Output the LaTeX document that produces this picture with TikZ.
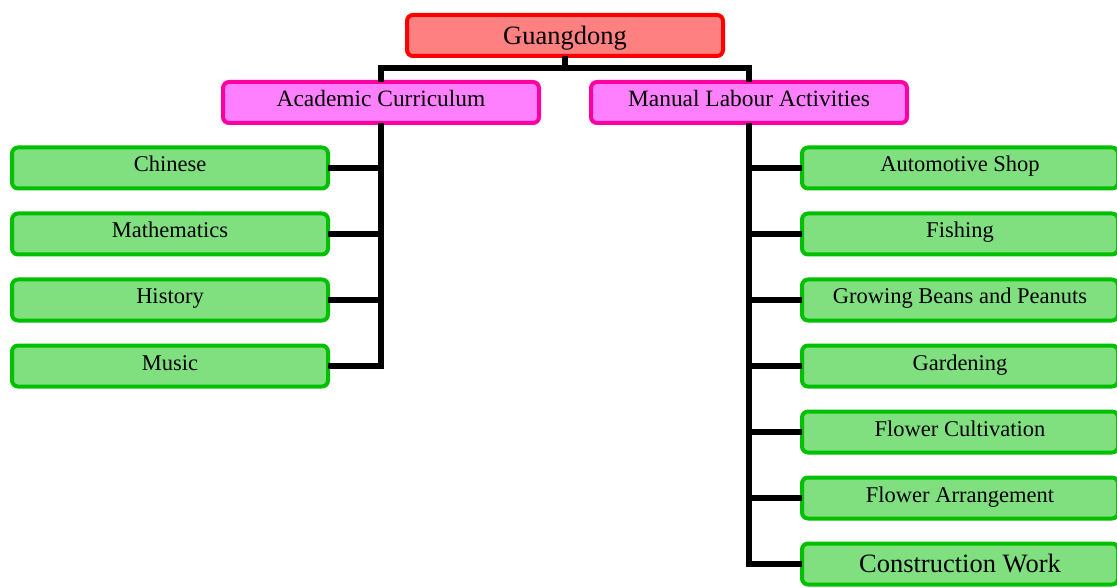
\documentclass[tikz,border=0pt]{standalone}
\usepackage{fontspec}
\setmainfont{Liberation Serif}
\usetikzlibrary{positioning}
\definecolor{rootfill}{RGB}{255,128,128}
\definecolor{rootline}{RGB}{255,0,0}
\definecolor{subfill}{RGB}{255,128,255}
\definecolor{subline}{RGB}{255,0,160}
\definecolor{leaffill}{RGB}{128,224,128}
\definecolor{leafline}{RGB}{0,192,0}
\tikzset{
  box/.style={rounded corners=6pt,line width=4pt,minimum width=316pt,minimum height=41pt,inner sep=0pt,outer sep=0pt},
  rootbox/.style={box,draw=rootline,fill=rootfill,font=\fontsize{26.5}{30}\selectfont,text height=18pt,text depth=0pt},
  subbox/.style={box,draw=subline,fill=subfill,font=\fontsize{23.4}{28}\selectfont,text height=15pt,text depth=6pt},
  leafbox/.style={box,draw=leafline,fill=leaffill,font=\fontsize{22.5}{27}\selectfont,text height=14pt,text depth=6pt},
  bigleaf/.style={leafbox,font=\fontsize{26.5}{30}\selectfont,text height=18pt,text depth=2pt},
  link/.style={line width=6pt,black}
}
\begin{document}
\begin{tikzpicture}[x=1pt,y=1pt,yscale=-1,xscale=1]
\useasboundingbox (0,0) rectangle (1117,588);

% Top
\node[rootbox] (gd) at (565,35.5) {Guangdong};
\node[subbox] (ac) at (381,102.5) {Academic Curriculum};
\node[subbox] (ml) at (749,102.5) {Manual Labour Activities};

% Left column
\node[leafbox] (a1) at (170,168) {Chinese};
\node[leafbox] (a2) at (170,234) {Mathematics};
\node[leafbox] (a3) at (170,300) {History};
\node[leafbox] (a4) at (170,366) {Music};

% Right column
\node[leafbox] (m1) at (960,168) {Automotive Shop};
\node[leafbox] (m2) at (960,234) {Fishing};
\node[leafbox] (m3) at (960,300) {Growing Beans and Peanuts};
\node[leafbox] (m4) at (960,366) {Gardening};
\node[leafbox] (m5) at (960,432) {Flower Cultivation};
\node[leafbox] (m6) at (960,498) {Flower Arrangement};
\node[bigleaf] (m7) at (960,564) {Construction Work};

% Connectors
\coordinate (bar) at (565,68);
\draw[link] (gd.south) -- (bar);
\draw[link] (ac.north) |- (bar) -| (ml.north);
\draw[link] (ac.south) |- (a4.east);
\foreach \i in {1,2,3}
  \draw[link] (a\i.east) -- (a\i.east -| ac.south);
\draw[link] (ml.south) |- (m7.west);
\foreach \i in {1,...,6}
  \draw[link] (m\i.west) -- (m\i.west -| ml.south);

\end{tikzpicture}
\end{document}
